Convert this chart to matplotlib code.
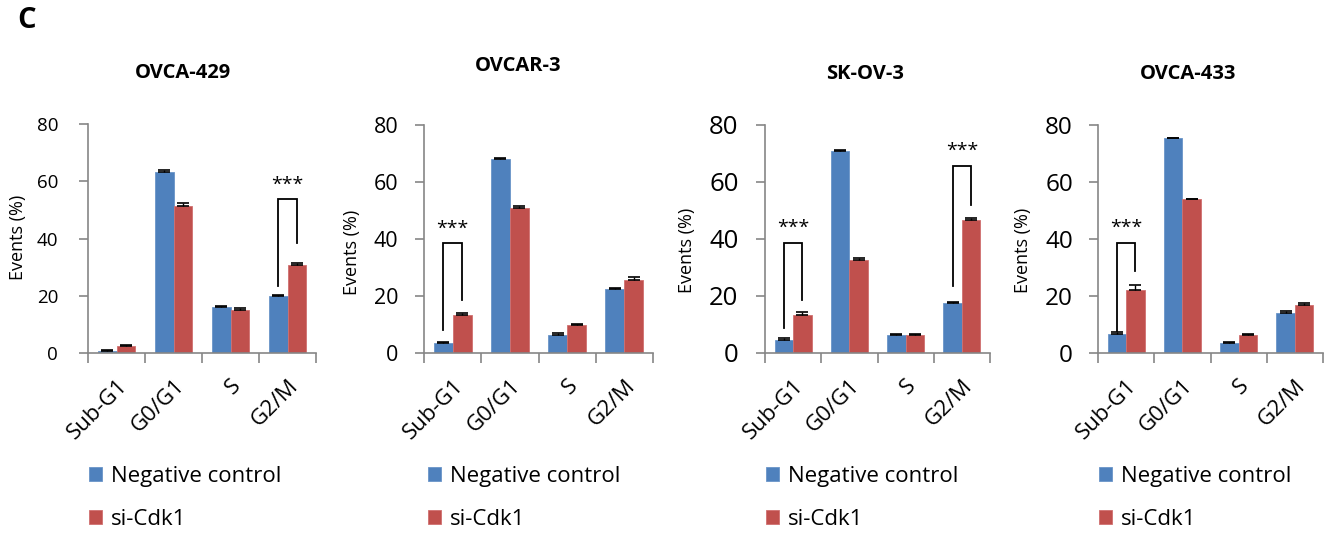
import numpy as np
import matplotlib
matplotlib.use("Agg")
import matplotlib.pyplot as plt

plt.rcParams['font.family'] = ['Open Sans', 'DejaVu Sans']

phases = ['Sub-G1', 'G0/G1', 'S', 'G2/M']
cell_lines = ['OVCA-429', 'OVCAR-3', 'SK-OV-3', 'OVCA-433']

# mean values (%)
neg_429 = [0.6, 63.4, 15.9, 20.0]
cdk_429 = [2.3, 51.4, 15.1, 30.6]
neg_429_err = [0.3, 0.4, 0.4, 0.4]
cdk_429_err = [0.4, 0.9, 0.5, 0.9]

neg_ovcar3 = [3.5, 68.0, 6.4, 22.4]
cdk_ovcar3 = [13.4, 50.8, 9.9, 25.7]
neg_ovcar3_err = [0.4, 0.5, 0.6, 0.4]
cdk_ovcar3_err = [0.6, 0.8, 0.4, 0.8]

neg_skov3 = [4.7, 70.8, 6.4, 17.6]
cdk_skov3 = [13.2, 32.8, 6.4, 46.6]
neg_skov3_err = [0.4, 0.4, 0.3, 0.3]
cdk_skov3_err = [1.1, 0.6, 0.3, 0.9]

neg_433 = [6.7, 75.3, 3.5, 14.0]
cdk_433 = [22.2, 53.9, 6.2, 16.7]
neg_433_err = [0.6, 0.3, 0.3, 0.7]
cdk_433_err = [1.6, 0.3, 0.6, 1.0]

neg_all = [neg_429, neg_ovcar3, neg_skov3, neg_433]
cdk_all = [cdk_429, cdk_ovcar3, cdk_skov3, cdk_433]
neg_err_all = [neg_429_err, neg_ovcar3_err, neg_skov3_err, neg_433_err]
cdk_err_all = [cdk_429_err, cdk_ovcar3_err, cdk_skov3_err, cdk_433_err]

# significance brackets: (phase index, left bottom, top, right bottom)
brackets = [
    [(3, 23.3, 53.7, 38.4)],
    [(0, 8.2, 38.5, 18.7)],
    [(0, 8.8, 38.6, 18.7), (3, 23.4, 65.6, 52.1)],
    [(0, 7.8, 38.6, 28.7)],
]

blue = '#4F81BD'
red = '#C0504D'
gray = '#868686'

W, H = 1329, 542
fig = plt.figure(figsize=(W / 100, H / 100), dpi=100)

# pixel layout of each panel
ax_left = [88, 424, 765, 1098]
ax_right = [316, 653, 990, 1323]
ax_top = [124, 125, 125, 125]
ax_bottom = 353
title_xy = [(183, 73), (518, 66), (865, 74), (1188, 74)]
ylabel_xy = [(18, 237), (352, 252), (687, 250), (1023, 250)]
ytick_size = [13.5, 15.5, 18.5, 17.5]
ytick_pad = [15, 12, 12.5, 11.5]
legend_x = [89, 428, 766, 1099]

fig.text(17 / W, 1 - 21 / H, 'C', fontsize=21, fontweight='bold', va='center', ha='left')

x = np.arange(len(phases))
bw = 0.33
for k in range(4):
    l, r, t = ax_left[k], ax_right[k], ax_top[k]
    ax = fig.add_axes([l / W, 1 - ax_bottom / H, (r - l) / W, (ax_bottom - t) / H])
    b1 = ax.bar(x - bw / 2, neg_all[k], bw, color=blue, edgecolor='#6A94C8', linewidth=0.6,
                yerr=[np.zeros(4), neg_err_all[k]], error_kw=dict(ecolor='black', elinewidth=1, capsize=4, capthick=1.2),
                label='Negative control')
    b2 = ax.bar(x + bw / 2, cdk_all[k], bw, color=red, edgecolor='#D07070', linewidth=0.6,
                yerr=[np.zeros(4), cdk_err_all[k]], error_kw=dict(ecolor='black', elinewidth=1, capsize=4, capthick=1.2),
                label='si-Cdk1')
    for (i, yl, yt, yr) in brackets[k]:
        ax.plot([i - bw / 2, i - bw / 2, i + bw / 2, i + bw / 2], [yl, yt, yt, yr], color='black', lw=1.3,
                solid_joinstyle='miter')
        ax.text(i, yt + 2.0, '***', ha='center', va='bottom', fontsize=14)

    ax.set_xlim(-0.5, 3.5)
    ax.set_ylim(0, 80)
    ax.set_yticks([0, 20, 40, 60, 80])
    ax.tick_params(axis='y', labelsize=ytick_size[k], color=gray, length=6.5, width=1.2, pad=ytick_pad[k])
    ax.set_xticks(x)
    ax.set_xticklabels(phases, rotation=45, ha='right', rotation_mode='anchor', fontsize=16)
    ax.tick_params(axis='x', length=0, pad=16)
    ax.set_xticks(np.arange(-0.5, 4, 1), minor=True)
    ax.tick_params(axis='x', which='minor', length=7, color=gray, width=1.2)
    for s in ['top', 'right']:
        ax.spines[s].set_visible(False)
    for s in ['left', 'bottom']:
        ax.spines[s].set_color(gray)
        ax.spines[s].set_linewidth(1.2)

    fig.text(title_xy[k][0] / W, 1 - title_xy[k][1] / H, cell_lines[k], fontsize=14.5, fontweight='bold',
             ha='center', va='center')
    fig.text(ylabel_xy[k][0] / W, 1 - ylabel_xy[k][1] / H, 'Events (%)', fontsize=13, rotation=90,
             ha='center', va='center')

    fig.legend(handles=[b1, b2], labels=['Negative control', 'si-Cdk1'], loc='upper left',
               bbox_to_anchor=(legend_x[k] / W, 1 - 466 / H), frameon=False, fontsize=16,
               handlelength=0.6, handleheight=0.6, handletextpad=0.4, labelspacing=1.0,
               borderpad=0, borderaxespad=0)

fig.savefig('out.png', dpi=100)
